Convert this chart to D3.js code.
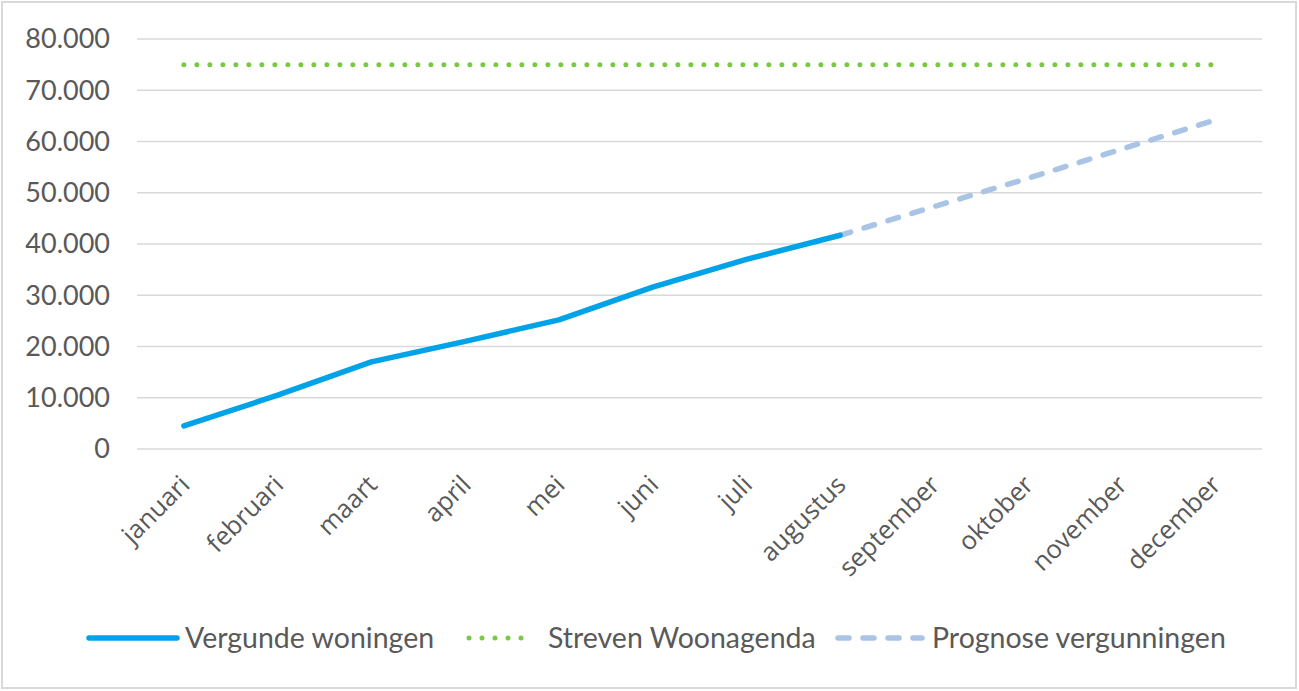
<!DOCTYPE html>
<html>
<head>
<meta charset="utf-8">
<script src="https://cdn.jsdelivr.net/npm/d3@7"></script>
<style>
  html, body { margin: 0; padding: 0; background: #fff; }
  svg text { font-family: "Lato", "Open Sans", sans-serif; fill: #595959; }
  svg text.xl { font-family: "Open Sans", "Lato", sans-serif; }
</style>
</head>
<body>
<svg id="chart" width="1299" height="691"></svg>
<script>
const months = ["januari","februari","maart","april","mei","juni","juli","augustus","september","oktober","november","december"];
const vergund = [4500, 10500, 17000, 21000, 25200, 31600, 37000, 41700];
const streven = [75000,75000,75000,75000,75000,75000,75000,75000,75000,75000,75000,75000];
const prognoseMonths = ["augustus","september","oktober","november","december"];
const prognose = [41700, 47300, 52800, 58500, 64200];
const yTicks = [0,10000,20000,30000,40000,50000,60000,70000,80000];
const legendLabels = ["Vergunde woningen","Streven Woonagenda","Prognose vergunningen"];

(function(){
const svg = d3.select("#chart");
const pLeft = 137, pRight = 1262, pTop = 39, pBottom = 449;

svg.append("rect").attr("x",2).attr("y",2).attr("width",1294).attr("height",686)
  .attr("fill","#fff").attr("stroke","#d9d9d9").attr("stroke-width",2);

const x = d3.scaleBand().domain(months).range([pLeft, pRight]).padding(0);
const cx = m => x(m) + x.bandwidth()/2;
const y = d3.scaleLinear().domain([0,80000]).range([pBottom, pTop]);

const fmt = v => v === 0 ? "0" : d3.format(",")(v).replace(/,/g, ".");

// gridlines
svg.append("g").selectAll("line").data(yTicks).join("line")
  .attr("x1", pLeft).attr("x2", pRight)
  .attr("y1", d => y(d)).attr("y2", d => y(d))
  .attr("stroke", "#d9d9d9").attr("stroke-width", 1.5);

// y labels
svg.append("g").selectAll("text").data(yTicks).join("text")
  .attr("x", 110).attr("y", d => y(d)).attr("dy", "0.35em")
  .attr("text-anchor", "end").style("font-size", "27px")
  .text(fmt);

// x labels
svg.append("g").selectAll("text").data(months).join("text")
  .attr("class", "xl")
  .attr("transform", d => `translate(${cx(d)+1},${480}) rotate(-45)`)
  .attr("text-anchor", "end").attr("dy", "0.35em").style("font-size", "25.5px")
  .text(d => d);

const line = d3.line().x(d => cx(d[0])).y(d => y(d[1]));

// streven
svg.append("path").datum(months.map((m,i)=>[m, streven[i]]))
  .attr("d", line).attr("fill","none").attr("stroke","#7ac943")
  .attr("stroke-width",5).attr("stroke-linecap","round").attr("stroke-dasharray","0 13");

// prognose
svg.append("path").datum(prognoseMonths.map((m,i)=>[m, prognose[i]]))
  .attr("d", line).attr("fill","none").attr("stroke","#a9c4e4")
  .attr("stroke-width",5.5).attr("stroke-linecap","round").attr("stroke-dasharray","11 14");

// vergund
svg.append("path").datum(vergund.map((v,i)=>[months[i], v]))
  .attr("d", line).attr("fill","none").attr("stroke","#00a2e8")
  .attr("stroke-width",5.5).attr("stroke-linecap","round").attr("stroke-linejoin","round");

// legend
const ly = 638;
const lfs = "28.5px";
const lg = svg.append("g");
lg.append("line").attr("x1",89).attr("x2",177).attr("y1",ly).attr("y2",ly)
  .attr("stroke","#00a2e8").attr("stroke-width",5.5).attr("stroke-linecap","round");
lg.append("text").attr("x",185).attr("y",ly).attr("dy","0.35em").style("font-size",lfs).text(legendLabels[0]);
lg.append("line").attr("x1",469).attr("x2",534).attr("y1",ly).attr("y2",ly)
  .attr("stroke","#7ac943").attr("stroke-width",5).attr("stroke-linecap","round").attr("stroke-dasharray","0 13");
lg.append("text").attr("x",548).attr("y",ly).attr("dy","0.35em").style("font-size",lfs).text(legendLabels[1]);
lg.append("line").attr("x1",838).attr("x2",922).attr("y1",ly).attr("y2",ly)
  .attr("stroke","#a9c4e4").attr("stroke-width",5.5).attr("stroke-linecap","round").attr("stroke-dasharray","11 14");
lg.append("text").attr("x",932).attr("y",ly).attr("dy","0.35em").style("font-size",lfs).text(legendLabels[2]);
})();
</script>
</body>
</html>
